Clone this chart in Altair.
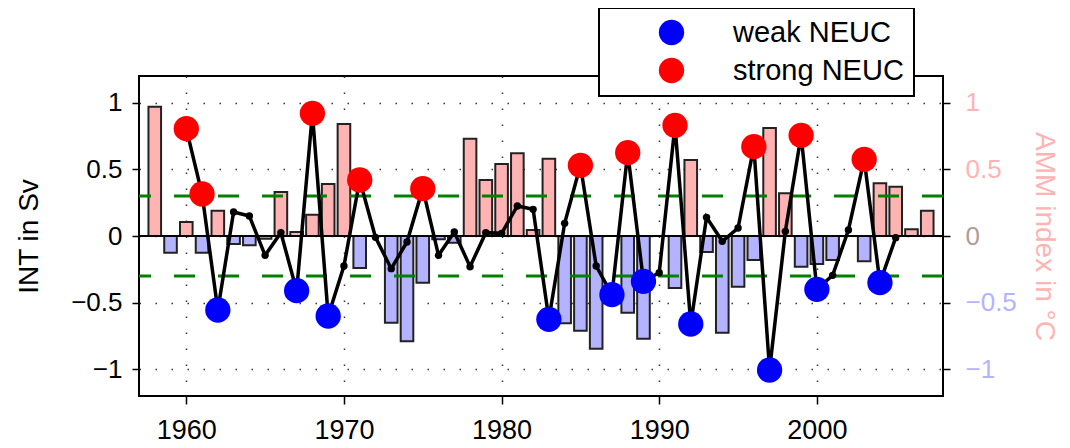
import altair as alt
import pandas as pd

# ---------------- data ----------------
amm_years = list(range(1958, 2008))
amm_values = [
    0.97, -0.125, 0.105, -0.125, 0.19, -0.06, -0.07, -0.02, 0.33, 0.03,    # 1958-1967
    0.16, 0.39, 0.84, -0.24, 0.0, -0.65, -0.79, -0.35, -0.025, -0.05,       # 1968-1977
    0.73, 0.42, 0.54, 0.62, 0.045, 0.58, -0.655, -0.71, -0.845, 0.0,        # 1978-1987
    -0.575, -0.77, 0.0, -0.39, 0.57, -0.12, -0.725, -0.38, -0.18, 0.81,     # 1988-1997
    0.32, -0.23, -0.21, -0.18, 0.0, -0.19, 0.395, 0.37, 0.05, 0.19,         # 1998-2007
]

int_years = list(range(1960, 2006))
int_values = [
    0.805, 0.315, -0.555, 0.18, 0.15, -0.145, 0.025, -0.41, 0.92, -0.6,     # 1960-1969
    -0.225, 0.42, -0.01, -0.245, -0.045, 0.355, -0.145, 0.03, -0.23, 0.025, # 1970-1979
    0.02, 0.225, 0.2, -0.625, 0.095, 0.53, -0.225, -0.44, 0.625, -0.34,     # 1980-1989
    -0.275, 0.83, -0.66, 0.14, -0.04, 0.06, 0.67, -1.005, 0.035, 0.755,     # 1990-1999
    -0.4, -0.295, 0.045, 0.575, -0.35, -0.0125,                             # 2000-2005
]

strong_years = [1960, 1961, 1968, 1971, 1975, 1985, 1988, 1991, 1996, 1999, 2003]
weak_years = [1962, 1967, 1969, 1983, 1987, 1989, 1992, 1997, 2000, 2004]
event_labels = ["weak NEUC", "strong NEUC"]
event_colors = ["#0000FF", "#FF0000"]

thresholds = [0.3, -0.3]
zero_level = [0]
x_ticks = [1960, 1970, 1980, 1990, 2000]
y_ticks = [-1, -0.5, 0, 0.5, 1]

# ---------------- tables ----------------
amm_df = pd.DataFrame({"year": amm_years, "amm": amm_values})
int_df = pd.DataFrame({"year": int_years, "int": int_values})


def classify(y):
    if y in strong_years:
        return "strong NEUC"
    if y in weak_years:
        return "weak NEUC"
    return ""


int_df["event"] = [classify(y) for y in int_years]
ev_df = int_df[int_df["event"] != ""].copy()
thr_df = pd.DataFrame({"t": thresholds})
zero_df = pd.DataFrame({"z": zero_level})

FONT = "Liberation Sans"
PINK = "#FFB3B3"
LBLUE = "#B3B3FF"

xscale = alt.Scale(domain=[1957, 2008], nice=False, zero=False)
yscale = alt.Scale(domain=[-1.2, 1.2], nice=False, zero=False)

grid_kw = dict(grid=True, gridColor="#333333", gridWidth=1.5, gridDash=[1.5, 14.5])

x_axis = alt.Axis(
    values=x_ticks, format="d", title=None, domain=False,
    tickSize=8, tickWidth=1.5, tickColor="black",
    labelFont=FONT, labelFontSize=27, labelColor="black", labelPadding=13,
    **grid_kw,
)

left_axis = alt.Axis(
    orient="left", values=y_ticks, format=".1~f", domain=False,
    tickSize=7, tickWidth=1.5, tickColor="black",
    labelFont=FONT, labelFontSize=26, labelColor="black", labelPadding=10,
    title="INT in Sv", titleFont=FONT, titleFontSize=28, titleFontWeight="normal",
    titleColor="black", titlePadding=27,
    **grid_kw,
)

right_axis = alt.Axis(
    orient="right", values=y_ticks, format=".1~f", domain=False, grid=False,
    tickSize=7, tickWidth=1.5, tickColor="black",
    labelFont=FONT, labelFontSize=26, labelPadding=15,
    labelColor={
        "condition": [
            {"test": "datum.value > 0", "value": PINK},
            {"test": "datum.value == 0", "value": "#AD9D94"},
        ],
        "value": LBLUE,
    },
    title="AMM index in °C", titleFont=FONT, titleFontSize=28,
    titleFontWeight="normal", titleColor=PINK, titlePadding=13,
)

X = lambda f: alt.X(f, scale=xscale, axis=x_axis)
YL = lambda f: alt.Y(f, scale=yscale, axis=left_axis)

bars = (
    alt.Chart(amm_df)
    .transform_filter("datum.amm != 0")
    .transform_calculate(x0="datum.year - 0.4", x1="datum.year + 0.4", base="0")
    .mark_bar(stroke="#222222", strokeWidth=2)
    .encode(
        x=X("x0:Q"),
        x2="x1:Q",
        y=alt.Y("amm:Q", scale=yscale, axis=right_axis),
        y2="base:Q",
        fill=alt.condition("datum.amm > 0", alt.value(PINK), alt.value(LBLUE)),
    )
)

zero_rule = alt.Chart(zero_df).mark_rule(color="black", strokeWidth=2).encode(
    y=YL("z:Q")
)

green = alt.Chart(thr_df).mark_rule(
    color="#008000", strokeWidth=3, strokeDash=[21, 23]
).encode(y=YL("t:Q"))

line = alt.Chart(int_df).mark_line(color="black", strokeWidth=3.5).encode(
    x=X("year:Q"), y=YL("int:Q")
)

small_pts = alt.Chart(int_df).mark_circle(size=55, color="black", opacity=1).encode(
    x=X("year:Q"), y=YL("int:Q")
)

events = alt.Chart(ev_df).mark_circle(size=640, opacity=1).encode(
    x=X("year:Q"),
    y=YL("int:Q"),
    color=alt.Color(
        "event:N",
        scale=alt.Scale(domain=event_labels, range=event_colors),
        legend=alt.Legend(
            title=None, orient="none", legendX=460, legendY=-68,
            direction="vertical", fillColor="white", strokeColor="black",
            padding=10, rowPadding=8,
            symbolType="circle", symbolSize=640, symbolStrokeWidth=0,
            symbolOffset=48, labelOffset=47,
            labelFont=FONT, labelFontSize=29, labelColor="black", labelLimit=400,
        ),
    ),
)

left_layer = alt.layer(zero_rule, green, line, small_pts, events)

chart = (
    alt.layer(bars, left_layer)
    .resolve_scale(y="independent")
    .properties(
        width=804,
        height=320,
        padding={"left": 131, "top": 68, "right": 119, "bottom": 48},
        autosize=alt.AutoSizeParams(type="none"),
        background="white",
    )
    .configure_view(stroke="black", strokeWidth=2)
    .configure_legend(strokeWidth=2)
)

chart.save("out.html", embed_options={"renderer": "svg", "actions": False})
